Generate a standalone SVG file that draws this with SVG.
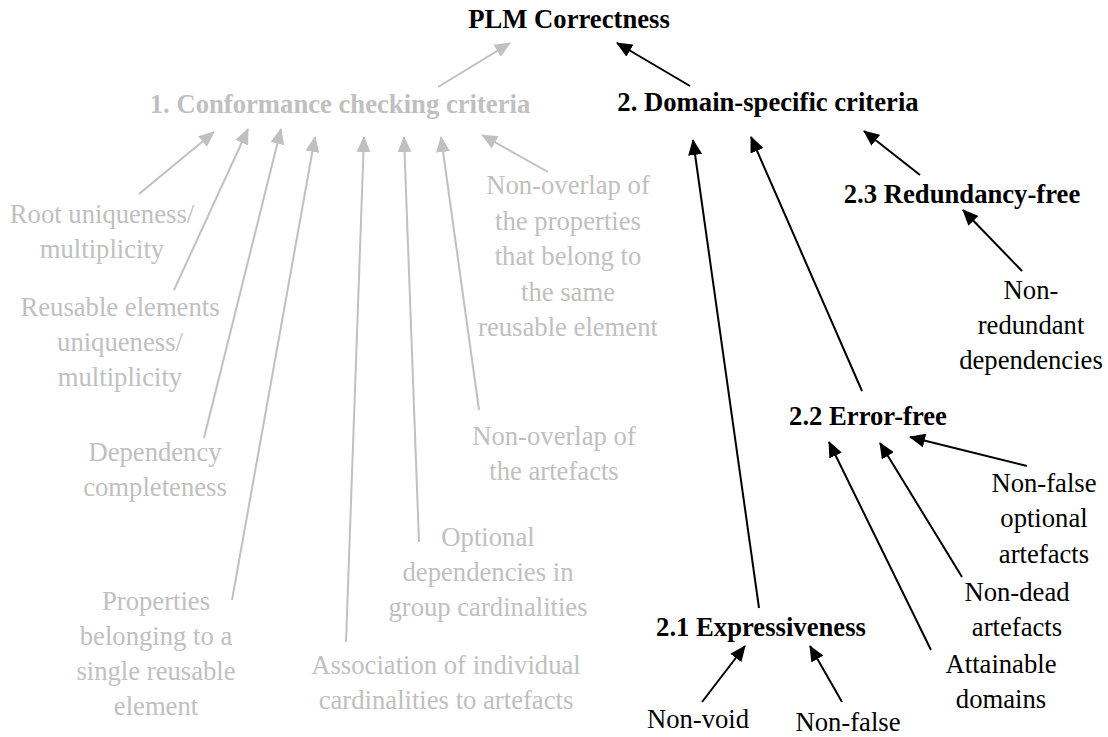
<svg xmlns="http://www.w3.org/2000/svg" width="1108" height="737" viewBox="0 0 1108 737">
<style>
text{font-family:'Liberation Serif','Times New Roman','DejaVu Serif',serif;font-size:26.67px;text-anchor:middle}
.b{font-weight:bold}
.g{fill:#c0c0c0}
.k{fill:#000}
.cg{stroke:#c0c0c0;stroke-width:2;fill:none;marker-end:url(#ag)}
.ck{stroke:#000;stroke-width:2;fill:none;marker-end:url(#ak)}
</style>
<defs>
<marker id="ag" viewBox="0 0 16 14" refX="15" refY="7" markerWidth="16" markerHeight="14" markerUnits="userSpaceOnUse" orient="auto"><path d="M0,0 L16,7 L0,14 z" fill="#c0c0c0"/></marker>
<marker id="ak" viewBox="0 0 16 14" refX="15" refY="7" markerWidth="16" markerHeight="14" markerUnits="userSpaceOnUse" orient="auto"><path d="M0,0 L16,7 L0,14 z" fill="#000"/></marker>
</defs>
<rect width="1108" height="737" fill="#fff"/>
<g id="connectors">
<line class="cg" x1="438" y1="87" x2="510" y2="43"/>
<line class="cg" x1="139" y1="194" x2="214" y2="132"/>
<line class="cg" x1="174" y1="290" x2="248" y2="129"/>
<line class="cg" x1="204" y1="438" x2="281" y2="129"/>
<line class="cg" x1="232" y1="600" x2="315" y2="137"/>
<line class="cg" x1="346" y1="642" x2="364" y2="137"/>
<line class="cg" x1="419" y1="542" x2="404" y2="137"/>
<line class="cg" x1="479" y1="410" x2="441" y2="137"/>
<line class="cg" x1="548" y1="172" x2="482" y2="135"/>
<line class="ck" x1="690" y1="86" x2="617" y2="43"/>
<line class="ck" x1="920" y1="175" x2="864" y2="131"/>
<line class="ck" x1="1022" y1="271" x2="963" y2="210"/>
<line class="ck" x1="759" y1="608" x2="693" y2="140"/>
<line class="ck" x1="862" y1="391" x2="751" y2="137"/>
<line class="ck" x1="931" y1="650" x2="829" y2="442"/>
<line class="ck" x1="962" y1="577" x2="880" y2="443"/>
<line class="ck" x1="1027" y1="466" x2="910" y2="437"/>
<line class="ck" x1="702" y1="702" x2="745" y2="646"/>
<line class="ck" x1="842" y1="702" x2="810" y2="646"/>
</g>
<g id="plm"><text class="b k" x="569" y="28">PLM Correctness</text></g>
<g id="conformance"><text class="b g" x="340" y="113">1. Conformance checking criteria</text></g>
<g id="domain"><text class="b k" x="768" y="111">2. Domain-specific criteria</text></g>
<g id="root"><text class="g" x="102" y="223">Root uniqueness/</text><text class="g" x="102" y="258">multiplicity</text></g>
<g id="reusable"><text class="g" x="120" y="316">Reusable elements</text><text class="g" x="120" y="351">uniqueness/</text><text class="g" x="120" y="386">multiplicity</text></g>
<g id="dependency"><text class="g" x="155" y="461">Dependency</text><text class="g" x="155" y="496">completeness</text></g>
<g id="properties"><text class="g" x="156" y="610">Properties</text><text class="g" x="156" y="645">belonging to a</text><text class="g" x="156" y="680">single reusable</text><text class="g" x="156" y="715">element</text></g>
<g id="association"><text class="g" x="446" y="674">Association of individual</text><text class="g" x="446" y="709">cardinalities to artefacts</text></g>
<g id="optional"><text class="g" x="488" y="546">Optional</text><text class="g" x="488" y="581">dependencies in</text><text class="g" x="488" y="616">group cardinalities</text></g>
<g id="overlap-artefacts"><text class="g" x="554" y="445">Non-overlap of</text><text class="g" x="554" y="480">the artefacts</text></g>
<g id="overlap-properties"><text class="g" x="568" y="194">Non-overlap of</text><text class="g" x="568" y="229.5">the properties</text><text class="g" x="568" y="265">that belong to</text><text class="g" x="568" y="300.5">the same</text><text class="g" x="568" y="336">reusable element</text></g>
<g id="redundancy"><text class="b k" x="962" y="203">2.3 Redundancy-free</text></g>
<g id="non-redundant"><text class="k" x="1031" y="299">Non-</text><text class="k" x="1031" y="334">redundant</text><text class="k" x="1031" y="369">dependencies</text></g>
<g id="error-free"><text class="b k" x="868" y="425">2.2 Error-free</text></g>
<g id="non-false-optional"><text class="k" x="1044" y="492">Non-false</text><text class="k" x="1044" y="527">optional</text><text class="k" x="1044" y="563">artefacts</text></g>
<g id="non-dead"><text class="k" x="1017" y="601">Non-dead</text><text class="k" x="1017" y="636">artefacts</text></g>
<g id="attainable"><text class="k" x="1001" y="673">Attainable</text><text class="k" x="1001" y="708">domains</text></g>
<g id="expressiveness"><text class="b k" x="761" y="636">2.1 Expressiveness</text></g>
<g id="non-void"><text class="k" x="698" y="728">Non-void</text></g>
<g id="non-false"><text class="k" x="848" y="731">Non-false</text></g>
</svg>
